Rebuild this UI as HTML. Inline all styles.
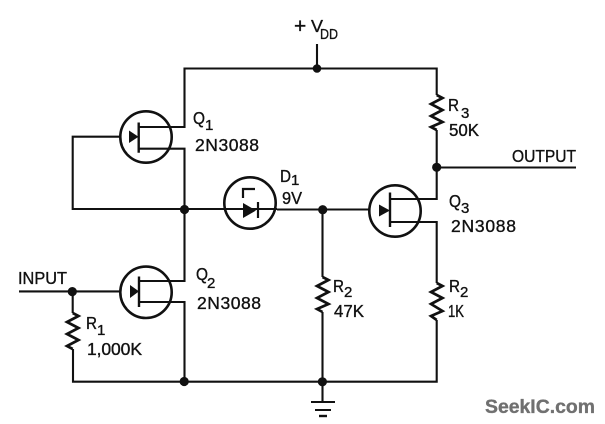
<!DOCTYPE html>
<html><head><meta charset="utf-8"><style>
html,body{margin:0;padding:0;background:#fff}
svg{display:block}
text{font-family:"Liberation Sans",sans-serif;fill:#111;stroke:#111;stroke-width:.35px;font-size:17.5px}
.s{font-size:15px}
</style></head><body>
<svg width="605" height="424" viewBox="0 0 605 424" xmlns="http://www.w3.org/2000/svg">
<g fill="none" stroke="#111" stroke-width="2.1">
<path d="M139 127H184.5V68.5H436.7V95M317 44V68.5"/>
<path d="M139 148.7H184.5V281H139M139 302H184.5V381.7H73V349M184.5 381.7H436.7V320"/>
<path d="M120 136.7H72.7V209H277M277 209.5H369M322.5 209.5V277M322.5 312V402"/>
<path d="M19 291.4H120M72.7 291.4V313"/>
<path d="M436.7 130V199H390M390 222H436.7V283M436.7 167.5H576"/>
<circle cx="146" cy="137" r="25.7" stroke-width="2.6"/>
<circle cx="146" cy="292.3" r="25.7" stroke-width="2.6"/>
<circle cx="250" cy="203" r="25.7" stroke-width="2.6"/>
<circle cx="395" cy="211" r="25.7" stroke-width="2.6"/>
<path d="M138.7 122.5V152.7M139 276.5V307M390 192.5V227" stroke-width="2.4"/>
<path d="M243 198V189H255" stroke-width="2.2"/>
<path d="M258 202V218" stroke-width="2.2"/>
<path d="M72.7 313L78.5 316L67 322L78.5 328L67 334L78.5 340L67 346L72.7 349" stroke-width="2.7"/>
<path d="M436.7 95L442.5 98L431 104L442.5 110L431 116L442.5 122L431 127L436.7 130" stroke-width="2.7"/>
<path d="M322.5 277L328.5 280L317 286L328.5 292L317 298L328.5 304L317 309L322.5 312" stroke-width="2.7"/>
<path d="M436.7 283L442.5 286L431 292L442.5 298L431 304L442.5 311L431 316L436.7 320" stroke-width="2.7"/>
<path d="M311 402H335M315 410H331" stroke-width="2"/>
<path d="M319 416H327" stroke-width="2.4"/>
</g>
<g fill="#111" stroke="none">
<path d="M129 130.5L138.5 136.7L129 143Z"/>
<path d="M130 285L139 291.4L130 298Z"/>
<path d="M379 204.5L390 210.5L379 216.5Z"/>
<path d="M243 203L256 210.5L243 218Z"/>
<circle cx="317" cy="68.5" r="4.3"/>
<circle cx="436.7" cy="167.3" r="4.6"/>
<circle cx="184.5" cy="209.5" r="4.6"/>
<circle cx="322.7" cy="209.7" r="4.6"/>
<circle cx="72.3" cy="291.6" r="4.6"/>
<circle cx="184.2" cy="381.5" r="4.6"/>
<circle cx="322.4" cy="381.8" r="4.6"/>
</g>
<text x="294" y="33" style="font-size:21px">+</text>
<text x="311" y="32" textLength="12" lengthAdjust="spacingAndGlyphs">V</text>
<text class="s" x="320" y="39" textLength="18" lengthAdjust="spacingAndGlyphs">DD</text>

<text x="193" y="124" textLength="12" lengthAdjust="spacingAndGlyphs">Q</text><text class="s" x="205" y="130">1</text>
<text x="195" y="151" textLength="64" lengthAdjust="spacing">2N3088</text>
<text x="196" y="280" textLength="12" lengthAdjust="spacingAndGlyphs">Q</text><text class="s" x="207" y="288">2</text>
<text x="197" y="309" textLength="64" lengthAdjust="spacing">2N3088</text>
<text x="449" y="207" textLength="12" lengthAdjust="spacingAndGlyphs">Q</text><text class="s" x="461" y="213">3</text>
<text x="451" y="232" textLength="65" lengthAdjust="spacing">2N3088</text>

<text x="18" y="284" textLength="49" lengthAdjust="spacingAndGlyphs">INPUT</text>
<text x="512" y="162" textLength="64" lengthAdjust="spacingAndGlyphs">OUTPUT</text>

<text x="86" y="329" textLength="11" lengthAdjust="spacingAndGlyphs">R</text><text class="s" x="97" y="335">1</text>
<text x="87" y="355" textLength="55" lengthAdjust="spacing">1,000K</text>

<text x="280" y="182" textLength="11" lengthAdjust="spacingAndGlyphs">D</text><text class="s" x="291" y="185">1</text>
<text x="282" y="204" textLength="20" lengthAdjust="spacingAndGlyphs">9V</text>

<text x="448" y="111" textLength="11" lengthAdjust="spacingAndGlyphs">R</text><text class="s" x="461" y="118">3</text>
<text x="449" y="136" textLength="30" lengthAdjust="spacingAndGlyphs">50K</text>

<text x="333" y="292" textLength="11" lengthAdjust="spacingAndGlyphs">R</text><text class="s" x="344" y="297">2</text>
<text x="334" y="317" textLength="30" lengthAdjust="spacingAndGlyphs">47K</text>
<text x="449" y="292" textLength="11" lengthAdjust="spacingAndGlyphs">R</text><text class="s" x="460" y="297">2</text>
<text x="448" y="317" textLength="16" lengthAdjust="spacingAndGlyphs">1K</text>

<text x="485" y="413" textLength="110" lengthAdjust="spacingAndGlyphs" style="font-size:19.5px;font-weight:bold;fill:#707070;stroke:#707070">SeekIC.com</text>
</svg>
</body></html>
